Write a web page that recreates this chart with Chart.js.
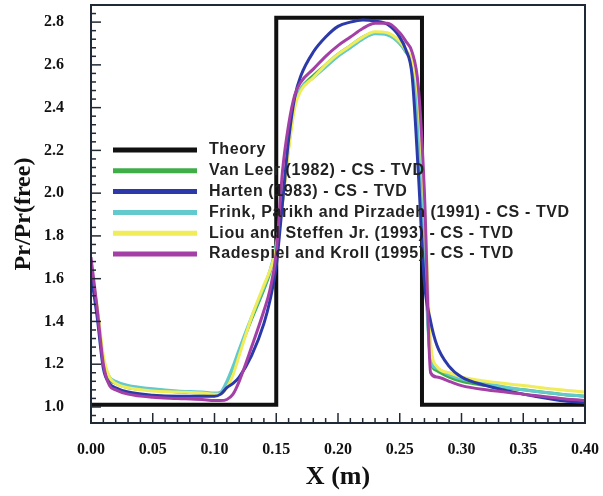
<!DOCTYPE html>
<html>
<head>
<meta charset="utf-8">
<script src="https://cdn.jsdelivr.net/npm/chart.js@4.4.1/dist/chart.umd.min.js"></script>
<style>
  html, body { margin: 0; padding: 0; background: #fff; }
  #wrap { width: 603px; height: 496px; }
</style>
</head>
<body>
<div id="wrap"><canvas id="line-chart" width="603" height="496"></canvas></div>
<script>
// x positions (m) shared by the computed curves
var xs = [0, 0.005, 0.01, 0.015, 0.02, 0.03, 0.05, 0.07, 0.09, 0.10, 0.105, 0.11, 0.115, 0.12, 0.13,
          0.14, 0.145, 0.15, 0.155, 0.16, 0.165, 0.17, 0.18, 0.19, 0.20, 0.21, 0.22, 0.23, 0.24, 0.25,
          0.255, 0.26, 0.265, 0.27, 0.275, 0.28, 0.29, 0.30, 0.32, 0.35, 0.38, 0.40];

// exact solution (step)
var theoryX = [0, 0.15, 0.15, 0.268, 0.268, 0.40];
var theoryY = [1.01, 1.01, 2.82, 2.82, 1.01, 1.01];

var vanLeer = [1.66, 1.45, 1.21, 1.13, 1.11, 1.09, 1.08, 1.07, 1.065, 1.06, 1.065, 1.11, 1.18, 1.26, 1.41,
               1.55, 1.63, 1.75, 1.96, 2.22, 2.42, 2.49, 2.55, 2.60, 2.65, 2.69, 2.73, 2.75, 2.745, 2.70,
               2.66, 2.60, 2.35, 1.75, 1.22, 1.17, 1.14, 1.12, 1.10, 1.08, 1.06, 1.05];
var harten = [1.62, 1.42, 1.18, 1.11, 1.09, 1.07, 1.055, 1.05, 1.05, 1.05, 1.06, 1.09, 1.11, 1.14, 1.24,
              1.39, 1.50, 1.66, 1.95, 2.25, 2.45, 2.55, 2.66, 2.73, 2.78, 2.80, 2.81, 2.805, 2.79, 2.73,
              2.67, 2.55, 2.10, 1.58, 1.40, 1.29, 1.19, 1.14, 1.10, 1.06, 1.03, 1.02];
var frink = [1.66, 1.45, 1.22, 1.14, 1.12, 1.10, 1.085, 1.075, 1.07, 1.065, 1.07, 1.12, 1.19, 1.27, 1.42,
             1.56, 1.64, 1.76, 1.96, 2.22, 2.42, 2.49, 2.54, 2.59, 2.64, 2.68, 2.72, 2.745, 2.74, 2.70,
             2.66, 2.60, 2.30, 1.70, 1.22, 1.18, 1.15, 1.13, 1.11, 1.08, 1.06, 1.05];
var liou = [1.65, 1.47, 1.24, 1.14, 1.11, 1.09, 1.075, 1.07, 1.065, 1.06, 1.06, 1.09, 1.15, 1.24, 1.42,
            1.57, 1.64, 1.74, 1.95, 2.20, 2.40, 2.48, 2.54, 2.60, 2.65, 2.69, 2.73, 2.755, 2.75, 2.71,
            2.67, 2.62, 2.45, 1.95, 1.30, 1.19, 1.16, 1.14, 1.12, 1.10, 1.08, 1.07];
var radespiel = [1.70, 1.46, 1.20, 1.10, 1.08, 1.06, 1.045, 1.04, 1.035, 1.03, 1.03, 1.035, 1.06, 1.12, 1.28,
                 1.45, 1.55, 1.72, 2.10, 2.32, 2.46, 2.52, 2.58, 2.64, 2.69, 2.73, 2.77, 2.795, 2.795, 2.75,
                 2.71, 2.66, 2.50, 2.00, 1.16, 1.14, 1.12, 1.10, 1.08, 1.06, 1.04, 1.03];

var labels = ['Theory', 'Van Leer (1982) - CS - TVD', 'Harten (1983) - CS - TVD',
              'Frink, Parikh and Pirzadeh (1991) - CS - TVD', 'Liou and Steffen Jr. (1993) - CS - TVD',
              'Radespiel and Kroll (1995) - CS - TVD'];
var colors = ['#111111', '#3fae49', '#2b3aa8', '#62c9cc', '#f0ec5a', '#a43fa6'];

function pts(xArr, yArr) {
    return xArr.map(function(x, i) { return {x: x, y: yArr[i]}; });
}

var series = [pts(theoryX, theoryY), pts(xs, vanLeer), pts(xs, harten), pts(xs, frink), pts(xs, liou), pts(xs, radespiel)];
var drawOrder = [6, 5, 2, 4, 3, 1];

var datasets = series.map(function(d, i) {
    return {
        label: labels[i],
        data: d,
        borderColor: colors[i],
        borderWidth: i === 0 ? 4 : 3,
        pointRadius: 0,
        fill: false,
        tension: 0,
        cubicInterpolationMode: i === 0 ? 'default' : 'monotone',
        order: drawOrder[i]
    };
});

// no extra room for overhanging tick labels
function noPad(s) {
    s.paddingLeft = 0; s.paddingRight = 0; s.paddingTop = 0; s.paddingBottom = 0;
}

// frame, inward tick marks and the legend box inside the plot
var decor = {
    id: 'decor',
    afterDatasetsDraw: function(chart) {
        var ctx = chart.ctx, a = chart.chartArea, x = chart.scales.x, y = chart.scales.y;
        ctx.save();
        ctx.strokeStyle = '#1f2a36';
        ctx.lineWidth = 1.5;
        for (var i = 0; i <= 40; i++) {
            var px = x.getPixelForValue(i / 100);
            var len = i % 5 === 0 ? 10 : 5;
            ctx.beginPath();
            ctx.moveTo(px, a.bottom);
            ctx.lineTo(px, a.bottom - len);
            ctx.stroke();
        }
        for (var j = 24; j <= 72; j++) {
            var v = j * 0.04;
            if (v < y.min || v > y.max) continue;
            var py = y.getPixelForValue(v);
            var l = j % 5 === 0 ? 10 : 5;
            ctx.beginPath();
            ctx.moveTo(a.left, py);
            ctx.lineTo(a.left + l, py);
            ctx.stroke();
        }
        ctx.lineWidth = 2;
        ctx.strokeRect(a.left, a.top, a.right - a.left, a.bottom - a.top);

        // legend
        var lx = a.left + 22, ly = 150;
        ctx.font = 'bold 16px "Liberation Sans", Arial, sans-serif';
        ctx.letterSpacing = '0.6px';
        ctx.textBaseline = 'middle';
        chart.data.datasets.forEach(function(ds, k) {
            var yy = ly + k * 20.8;
            ctx.strokeStyle = ds.borderColor;
            ctx.lineWidth = 5;
            ctx.beginPath();
            ctx.moveTo(lx, yy);
            ctx.lineTo(lx + 84, yy);
            ctx.stroke();
            ctx.fillStyle = '#222';
            ctx.fillText(ds.label, lx + 96, yy);
        });
        ctx.restore();
    }
};

new Chart(document.getElementById('line-chart'), {
    type: 'line',
    data: { datasets: datasets },
    options: {
        responsive: false,
        animation: false,
        layout: { padding: { left: 0, right: 18, top: 5, bottom: 0 } },
        plugins: { legend: { display: false }, tooltip: { enabled: false } },
        scales: {
            x: {
                type: 'linear',
                min: 0,
                max: 0.40,
                grid: { display: false },
                border: { display: false },
                afterFit: function(s) { s.height = 73; noPad(s); },
                ticks: {
                    stepSize: 0.05,
                    padding: 9,
                    color: '#111',
                    font: { family: '"Liberation Serif", "Times New Roman", serif', size: 16, weight: 'bold' },
                    maxRotation: 0,
                    callback: function(v) { return v.toFixed(2); }
                },
                title: {
                    display: true,
                    text: 'X (m)',
                    color: '#111',
                    padding: { top: 0, bottom: 3 },
                    font: { family: '"Liberation Serif", "Times New Roman", serif', size: 26, weight: 'bold' }
                }
            },
            y: {
                min: 0.925,
                max: 2.88,
                grid: { display: false },
                border: { display: false },
                afterFit: function(s) { s.width = 91; noPad(s); },
                ticks: {
                    stepSize: 0.2,
                    includeBounds: false,
                    padding: 19,
                    color: '#111',
                    font: { family: '"Liberation Serif", "Times New Roman", serif', size: 16, weight: 'bold' },
                    callback: function(v) { return v.toFixed(1); }
                },
                title: {
                    display: true,
                    text: 'Pr/Pr(free)',
                    color: '#111',
                    padding: { top: 9, bottom: 0 },
                    font: { family: '"Liberation Serif", "Times New Roman", serif', size: 24, weight: 'bold' }
                }
            }
        }
    },
    plugins: [decor]
});
</script>
</body>
</html>
